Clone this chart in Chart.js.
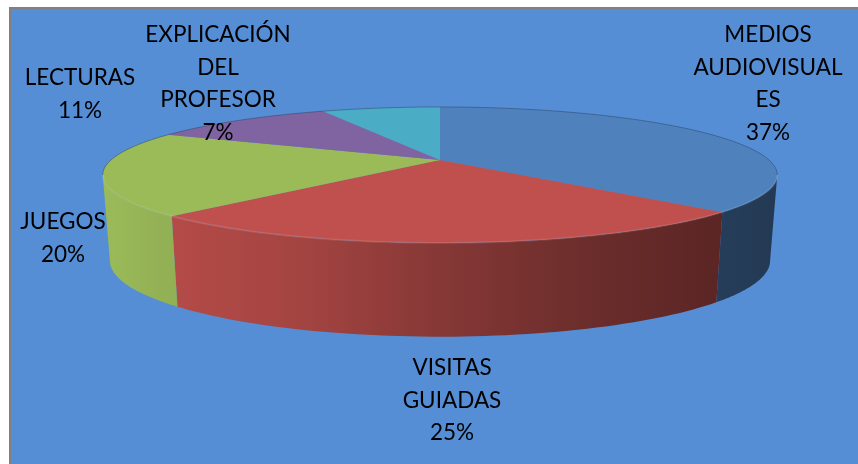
<!DOCTYPE html>
<html>
<head>
<meta charset="utf-8">
<script src="https://cdn.jsdelivr.net/npm/chart.js@4/dist/chart.umd.min.js"></script>
<style>
  html, body { margin: 0; padding: 0; background: #ffffff; }
  canvas { display: block; }
</style>
</head>
<body>
<canvas id="pie-chart" width="858" height="464"></canvas>
<script>
const categories = ['MEDIOS AUDIOVISUALES', 'VISITAS GUIADAS', 'JUEGOS', 'LECTURAS', 'EXPLICACIÓN DEL PROFESOR'];
const percentValues = [37, 25, 20, 11, 7];
const labelLines = [
    ['MEDIOS', 'AUDIOVISUAL', 'ES'],
    ['VISITAS', 'GUIADAS'],
    ['JUEGOS'],
    ['LECTURAS'],
    ['EXPLICACIÓN', 'DEL', 'PROFESOR']
];
const sliceColors = ['#4F81BD', '#C0504D', '#9BBB59', '#8064A2', '#4BACC6'];

// perspective of the tilted disc (top face and bottom face)
const CX = 440, CY = 160, RX = 329, RY = 64.7, Q = 0.22;
const RXB = 322, YB = 244, RYB = 72.3;
// where the labels sit (centre of first line)
const labelAnchors = [[768, 35], [452, 368], [63, 222], [80, 78], [218, 35]];
const lineHeight = 32.5;

function topPoint(t) {
    const s = Math.sin(t), w = 1 - Q * s;
    return [CX + RX * Math.cos(t) / w, CY + RY * s / w];
}

function bottomPoint(t) {
    const s = Math.sin(t), w = 1 - Q * s;
    return [CX + RXB * Math.cos(t) / w, YB + RYB * s / w];
}

function hexToRgb(hex) {
    const n = parseInt(hex.slice(1), 16);
    return [(n >> 16) & 255, (n >> 8) & 255, n & 255];
}

function shade(hex, f) {
    const c = hexToRgb(hex).map(v => Math.round(Math.min(255, v * f)));
    return 'rgb(' + c.join(',') + ')';
}

function wallGradient(ctx, color) {
    const g = ctx.createLinearGradient(CX - RX * 1.03, 0, CX + RX * 1.03, 0);
    const stops = [[0, 1.0], [0.1, 0.94], [0.3, 0.85], [0.5, 0.7], [0.7, 0.57], [0.9, 0.48], [1, 0.44]];
    stops.forEach(s => g.addColorStop(s[0], shade(color, s[1])));
    return g;
}

const pie3d = {
    id: 'pie3d',
    beforeDraw(chart) {
        const ctx = chart.ctx;
        ctx.save();
        ctx.fillStyle = '#ffffff';
        ctx.fillRect(0, 0, chart.width, chart.height);
        ctx.fillStyle = '#558ED5';
        ctx.fillRect(9, 7, chart.width - 9, chart.height - 7);
        ctx.fillStyle = '#808080';
        ctx.fillRect(9, 7, chart.width - 9, 2);
        ctx.fillRect(9, 7, 2, chart.height - 7);
        ctx.restore();
    },
    beforeDatasetsDraw(chart) {
        const ctx = chart.ctx;
        const arcs = chart.getDatasetMeta(0).data;
        const t0 = Math.asin(Q), t1 = Math.PI - Math.asin(Q);
        ctx.save();

        // outer walls, only the front part can be seen
        arcs.forEach((arc, i) => {
            const a = Math.max(arc.startAngle, t0);
            const b = Math.min(arc.endAngle, t1);
            if (b <= a) return;
            const steps = 60;
            ctx.beginPath();
            for (let k = 0; k <= steps; k++) {
                const p = topPoint(a + (b - a) * k / steps);
                k === 0 ? ctx.moveTo(p[0], p[1]) : ctx.lineTo(p[0], p[1]);
            }
            for (let k = steps; k >= 0; k--) {
                const p = bottomPoint(a + (b - a) * k / steps);
                ctx.lineTo(p[0], p[1]);
            }
            ctx.closePath();
            ctx.fillStyle = wallGradient(ctx, sliceColors[i]);
            ctx.fill();
        });

        // top faces
        arcs.forEach((arc, i) => {
            const a = arc.startAngle, b = arc.endAngle;
            const steps = Math.max(8, Math.ceil((b - a) * 60));
            ctx.beginPath();
            ctx.moveTo(CX, CY);
            for (let k = 0; k <= steps; k++) {
                const p = topPoint(a + (b - a) * k / steps);
                ctx.lineTo(p[0], p[1]);
            }
            ctx.closePath();
            ctx.fillStyle = sliceColors[i];
            ctx.fill();
        });

        // light rim on the front edge of the top
        ctx.beginPath();
        for (let k = 0; k <= 120; k++) {
            const p = topPoint(t0 + (t1 - t0) * k / 120);
            k === 0 ? ctx.moveTo(p[0], p[1]) : ctx.lineTo(p[0], p[1]);
        }
        ctx.strokeStyle = 'rgba(255,255,255,0.1)';
        ctx.lineWidth = 2;
        ctx.stroke();

        // thin outline on the back edge
        ctx.beginPath();
        for (let k = 0; k <= 120; k++) {
            const p = topPoint(t1 + (Math.PI * 2 + t0 - t1) * k / 120);
            k === 0 ? ctx.moveTo(p[0], p[1]) : ctx.lineTo(p[0], p[1]);
        }
        ctx.strokeStyle = 'rgba(40,60,90,0.45)';
        ctx.lineWidth = 1;
        ctx.stroke();

        ctx.restore();
        return false;
    },
    afterDraw(chart) {
        const ctx = chart.ctx;
        ctx.save();
        ctx.font = '22.5px Lato';
        ctx.fillStyle = '#000000';
        ctx.textAlign = 'center';
        ctx.textBaseline = 'middle';
        labelLines.forEach((lines, i) => {
            const [x, y] = labelAnchors[i];
            const all = lines.concat([percentValues[i] + '%']);
            all.forEach((txt, j) => ctx.fillText(txt, x, y + j * lineHeight));
        });
        ctx.restore();
    }
};

document.addEventListener('DOMContentLoaded', function() {
    const ctx = document.getElementById('pie-chart').getContext('2d');
    new Chart(ctx, {
        type: 'pie',
        data: {
            labels: categories,
            datasets: [{
                data: percentValues,
                backgroundColor: sliceColors,
                borderWidth: 0
            }]
        },
        options: {
            responsive: false,
            animation: false,
            plugins: {
                legend: { display: false },
                tooltip: { enabled: false }
            }
        },
        plugins: [pie3d]
    });
});
</script>
</body>
</html>
